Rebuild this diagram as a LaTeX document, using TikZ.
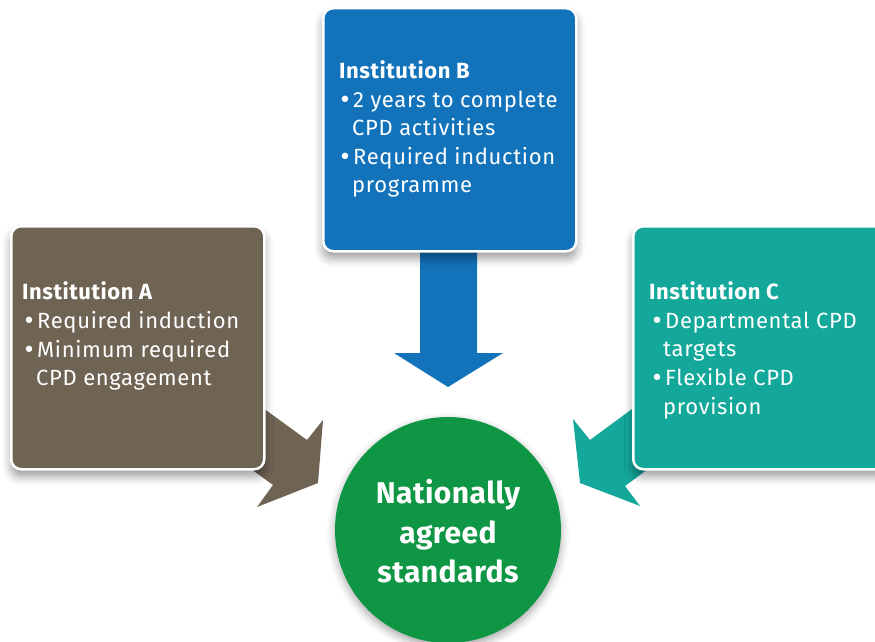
\documentclass[tikz,border=0pt]{standalone}
\usepackage{fontspec}
\setmainfont{Fira Sans}
\newfontfamily\dotfont{DejaVu Sans}
\usetikzlibrary{shadows.blur}

\definecolor{instA}{HTML}{6F6354}
\definecolor{instB}{HTML}{1273BB}
\definecolor{instC}{HTML}{14A89B}
\definecolor{natgreen}{HTML}{0E9645}

% hanging bullet in front of a list line
\newcommand\bul{\llap{{\dotfont\addfontfeature{LetterSpace=0}•}\hspace{1.5pt}}}

\begin{document}
\begin{tikzpicture}[x=1pt, y=-1pt,
  panel/.style={draw=white, line width=2.5pt, rounded corners=10pt,
    minimum width=253pt, minimum height=243pt, anchor=north west, inner sep=0pt,
    blur shadow={shadow xshift=0pt, shadow yshift=-7pt,
                 shadow blur radius=9pt, shadow opacity=40}},
  blockarrow/.style={draw=none},
  txt/.style={anchor=base west, inner sep=0pt, text=white,
    font=\fontsize{22}{26}\selectfont\addfontfeature{LetterSpace=3}},
  head/.style={txt, font=\fontsize{22}{26}\selectfont\bfseries\addfontfeature{LetterSpace=2.5}},
  goal/.style={anchor=base, inner sep=0pt, text=white,
    font=\fontsize{30}{36}\selectfont\bfseries\addfontfeature{LetterSpace=1.5}}]

\useasboundingbox (0,0) rectangle (875,642);

% block arrows pointing to the centre
\fill[instB, blockarrow] (420,240) -- (420,353) -- (394,353) -- (448,387)
  -- (503,353) -- (477,353) -- (477,240) -- cycle;
\fill[instA, blockarrow] (219,376) -- (307,440) -- (323,420) -- (318,483)
  -- (257,507) -- (273,485) -- (229,453) -- cycle;
\fill[instC, blockarrow] (674,378) -- (590,440) -- (573,419) -- (580,483)
  -- (640,506) -- (625,486) -- (709,424) -- cycle;

% institution panels
\node[panel, fill=instA] (boxA) at (10,225) {};
\node[panel, fill=instB] (boxB) at (322,7) {};
\node[panel, fill=instC] (boxC) at (632,225) {};

% Institution A
\node[head] (hA) at (22,299) {Institution A};
\node[txt] (a1) at (37,328) {\bul Required induction};
\node[txt] (a2) at (37,357) {\bul Minimum required};
\node[txt] (a3) at (36,385.5) {CPD engagement};

% Institution B
\node[head] (hB) at (339,78) {Institution B};
\node[txt] (b1) at (353,107) {\bul 2 years to complete};
\node[txt] (b2) at (352,135.5) {CPD activities};
\node[txt] (b3) at (353,164) {\bul Required induction};
\node[txt] (b4) at (352,192.5) {programme};

% Institution C
\node[head] (hC) at (649,299) {Institution C};
\node[txt] (c1) at (665,328) {\bul Departmental CPD};
\node[txt] (c2) at (663,356.5) {targets};
\node[txt] (c3) at (665,385.5) {\bul Flexible CPD};
\node[txt] (c4) at (663,414) {provision};

% shared standards
\node[circle, fill=natgreen, minimum size=226pt, inner sep=0pt,
  blur shadow={shadow xshift=0pt, shadow yshift=-4pt,
               shadow blur radius=8pt, shadow opacity=35}] (std) at (448,530) {};
\node[goal] (s1) at (448,503) {Nationally};
\node[goal] (s2) at (448,543) {agreed};
\node[goal] (s3) at (448,582) {standards};

\end{tikzpicture}
\end{document}
